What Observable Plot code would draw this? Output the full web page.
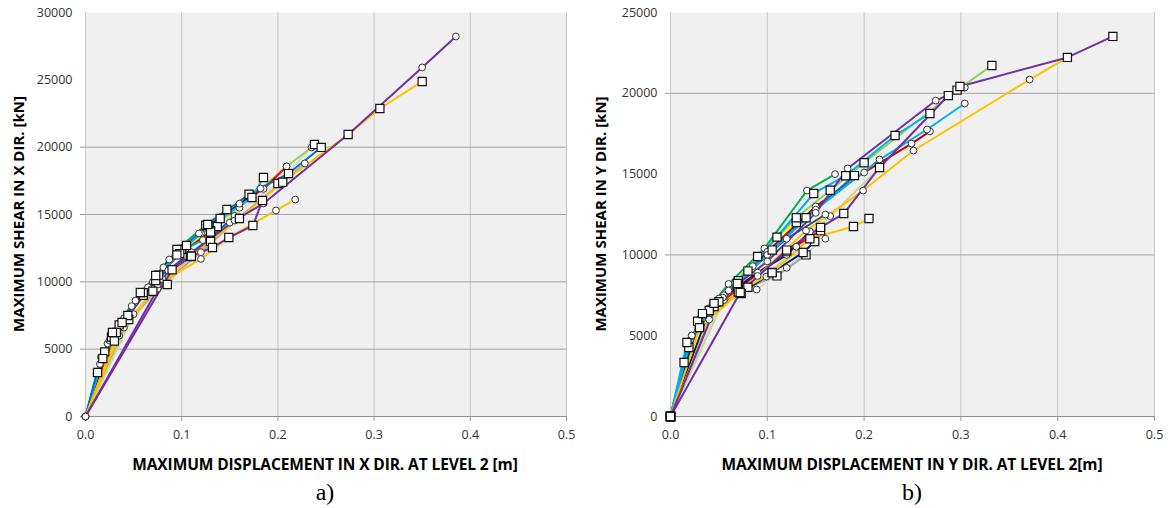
<!DOCTYPE html>
<html><head><meta charset="utf-8">
<script src="https://cdn.jsdelivr.net/npm/d3@7"></script>
<script src="https://cdn.jsdelivr.net/npm/@observablehq/plot@0.6"></script>
<style>
body{margin:0;background:#fff;}
#wrap{position:relative;width:1171px;height:508px;overflow:hidden;font-family:"Open Sans",sans-serif;}
.panel{position:absolute;top:0;}
.xt{position:absolute;top:455px;width:500px;height:18px;line-height:18px;font-weight:bold;font-size:15.5px;letter-spacing:-0.1px;text-align:center;white-space:nowrap;color:#000;}
.yt{position:absolute;top:205px;width:320px;height:18px;line-height:18px;font-weight:bold;font-size:15px;text-align:center;white-space:nowrap;color:#000;transform:rotate(-90deg);}
.cap{position:absolute;top:477px;width:60px;height:30px;line-height:30px;text-align:center;font-family:"Liberation Serif",serif;font-size:24px;color:#000;}
</style>
</head><body>
<div id="wrap">
  <div id="pa" class="panel" style="left:0px"></div>
  <div id="pb" class="panel" style="left:585px"></div>
  <div class="xt" style="left:75px">MAXIMUM DISPLACEMENT IN X DIR. AT LEVEL 2 [m]</div>
  <div class="xt" style="left:662px">MAXIMUM DISPLACEMENT IN Y DIR. AT LEVEL 2[m]</div>
  <div class="yt" style="left:-142px">MAXIMUM SHEAR IN X DIR. [kN]</div>
  <div class="yt" style="left:440px">MAXIMUM SHEAR IN Y DIR. [kN]</div>
  <div class="cap" style="left:295px">a)</div>
  <div class="cap" style="left:882px">b)</div>
</div>
<script>
// ---------- shared ----------
const xTicks = [0, 0.1, 0.2, 0.3, 0.4, 0.5];

// ---------- panel a (X direction) ----------
const yTicksA = [0, 5000, 10000, 15000, 20000, 25000, 30000];
const yGridA = [5000, 10000, 15000, 20000];
const colorsA = ["#D9D9D9","#A5A5A5","#C4D79B","#FFFF00","#00B050","#92D050","#FF0000","#C00000","#002060","#1F4E79","#0070C0","#00B0F0","#00B0F0","#0070C0","#FFC000","#FFC000","#7030A0","#7030A0"];
const markersA = ["square","circle","circle","square","square","circle","circle","square","circle","square","square","square","circle","circle","circle","square","square","circle"];
const dispA = [
  [0,0.045,0.085,0.137,0.2,0.238],
  [0,0.04,0.075,0.12,0.16,0.228],
  [0,0.05,0.08,0.11,0.15],
  [0,0.035,0.073,0.1,0.13],
  [0,0.032,0.06,0.095,0.125,0.147],
  [0,0.023,0.048,0.081,0.12,0.16,0.209,0.235],
  [0,0.03,0.071,0.103,0.14,0.185,0.209],
  [0,0.027,0.06,0.098,0.13],
  [0,0.025,0.052,0.087,0.118,0.16,0.182],
  [0,0.02,0.044,0.076,0.109,0.13],
  [0,0.0125,0.028,0.057,0.095,0.127,0.17,0.211,0.245],
  [0,0.018,0.038,0.073,0.105,0.14,0.173,0.185],
  [0,0.015,0.034,0.065,0.1,0.122],
  [0,0.016,0.04,0.07,0.105,0.128,0.155],
  [0,0.035,0.075,0.12,0.149,0.198,0.218],
  [0,0.03,0.07,0.11,0.16,0.205,0.273,0.306,0.35],
  [0,0.09,0.11,0.132,0.149,0.174,0.184],
  [0,0.086,0.155,0.185,0.273,0.35,0.385]
];
const shearA = [
  [0,7200,9800,14110,17300,20200],
  [0,6600,9500,12200,14800,18790],
  [0,7600,10200,12200,14400],
  [0,6800,10100,12400,13800],
  [0,6240,9000,12400,14200,15370],
  [0,5420,8200,11070,13600,15500,18570,19980],
  [0,6100,9950,12620,14800,16900,18570],
  [0,5900,9200,12100,13700],
  [0,5640,8610,11660,13590,15800,16930],
  [0,4800,7500,10500,11880,13000],
  [0,3270,6240,9210,12000,14260,16500,18040,19980],
  [0,4300,6980,10470,12700,14700,16260,17750],
  [0,3900,6500,9600,12300,13100],
  [0,4400,7300,10000,11900,13100,14900],
  [0,6000,9800,11700,13290,15300,16110],
  [0,5600,9300,11900,14700,17400,20940,22870,24880],
  [0,10900,11900,12550,13290,14180,16040],
  [0,10840,14550,15820,20940,25920,28220]
];

// ---------- panel b (Y direction) ----------
const yTicksB = [0, 5000, 10000, 15000, 20000, 25000];
const yGridB = [10000, 20000];
const colorsB = ["#D9D9D9","#A5A5A5","#C4D79B","#FFFF00","#00B050","#92D050","#C00000","#FF0000","#002060","#002060","#1F4E79","#0070C0","#00B0F0","#00B0F0","#FFC000","#FFC000","#7030A0","#7030A0"];
const markersB = ["circle","square","circle","square","circle","square","circle","square","square","circle","circle","square","square","circle","square","circle","circle","square"];
const dispB = [
  [0,0.05,0.089,0.12,0.16],
  [0,0.045,0.08,0.11,0.14],
  [0,0.055,0.099,0.13,0.165,0.216],
  [0,0.03,0.07,0.11,0.13],
  [0,0.018,0.04,0.06,0.097,0.141,0.17],
  [0,0.019,0.05,0.09,0.13,0.165,0.2,0.296,0.332],
  [0,0.02,0.055,0.1,0.15,0.2,0.249,0.268],
  [0,0.028,0.07,0.12,0.155],
  [0,0.04,0.073,0.105,0.137,0.149],
  [0,0.03,0.054,0.09,0.12,0.144],
  [0,0.022,0.05,0.085,0.12,0.16],
  [0,0.014,0.033,0.069,0.105,0.14,0.19],
  [0,0.017,0.045,0.08,0.148,0.181,0.232,0.268],
  [0,0.022,0.06,0.1,0.15,0.216,0.265,0.304],
  [0,0.03,0.07,0.105,0.144,0.189,0.205],
  [0,0.04,0.09,0.14,0.199,0.251,0.371,0.41],
  [0,0.05,0.1,0.15,0.183,0.274,0.304],
  [0,0.072,0.12,0.155,0.179,0.216,0.287,0.299,0.41,0.457]
];
const shearB = [
  [0,7000,7860,9200,11000],
  [0,6800,8000,8700,10000],
  [0,7200,8660,10500,12400,15400],
  [0,5600,8400,11100,12000],
  [0,4500,6700,8200,10400,13980,15000],
  [0,4270,7100,9900,12300,14000,15700,20200,21720],
  [0,4700,7500,10200,13000,15100,16890,17640],
  [0,5900,7900,10200,11500],
  [0,6560,7610,8910,10150,10830],
  [0,6000,7360,8900,10000,11450],
  [0,5000,7000,9300,11000,12500],
  [0,3340,6370,8230,10300,12300,14910],
  [0,4580,7000,9000,13800,14900,17390,18750],
  [0,5010,7800,10000,12800,15900,17760,19370],
  [0,5500,7700,8900,11000,11760,12250],
  [0,6000,8700,11500,13980,16460,20850,22220],
  [0,7300,9600,12600,15350,19550,20360],
  [0,7670,10300,11700,12560,15410,19860,20420,22220,23520]
];

function buildRows(disp, shear, colors, markers) {
  const rows = [];
  disp.forEach((ds, i) => ds.forEach((d, j) => rows.push({s: i, d, v: shear[i][j], c: colors[i], m: markers[i]})));
  return rows;
}

function makePanel(rows, yTicks, yGrid, width, marginRight, originSymbol) {
  const keep = r => r.d !== 0 || r.v !== 0 || r.m === originSymbol;
  return Plot.plot({
    width, height: 450,
    marginLeft: 85, marginRight, marginTop: 12, marginBottom: 34,
    x: {domain: [0, 0.5]},
    y: {domain: [0, d3.max(yTicks)]},
    style: {fontFamily: "Open Sans, sans-serif", fontSize: "12.5px", color: "#333", background: "transparent", overflow: "visible"},
    marks: [
      Plot.frame({fill: "#f0f0f0", stroke: "none"}),
      Plot.gridX({ticks: xTicks, stroke: "#c8c8c8", strokeOpacity: 1}),
      Plot.gridY({ticks: yGrid, stroke: "#a3a3a3", strokeOpacity: 1}),
      Plot.ruleY([0], {stroke: "#8c8c8c"}),
      Plot.axisX({ticks: xTicks, tickSize: 5, tickPadding: 9, tickFormat: d3.format(".1f"), label: null, stroke: "#999"}),
      Plot.axisY({ticks: yTicks, tickSize: 0, tickPadding: 13, tickFormat: d => String(d), label: null}),
      Plot.axisY({ticks: [0].concat(yGrid), tickSize: 5, tickFormat: () => "", label: null, stroke: "#999"}),
      Plot.line(rows, {x: "d", y: "v", z: "s", stroke: "c", strokeWidth: 2}),
      Plot.dot(rows.filter(r => r.m === "circle" && keep(r)), {x: "d", y: "v", r: 3.4, fill: "white", stroke: "#333", strokeWidth: 1}),
      Plot.dot(rows.filter(r => r.m === "square" && keep(r)), {x: "d", y: "v", symbol: "square", r: 4.6, fill: "white", stroke: "#111", strokeWidth: 1.2})
    ]
  });
}

document.getElementById("pa").append(makePanel(buildRows(dispA, shearA, colorsA, markersA), yTicksA, yGridA, 585, 19, "circle"));
document.getElementById("pb").append(makePanel(buildRows(dispB, shearB, colorsB, markersB), yTicksB, yGridB, 586, 17, "square"));
</script>
</body></html>
